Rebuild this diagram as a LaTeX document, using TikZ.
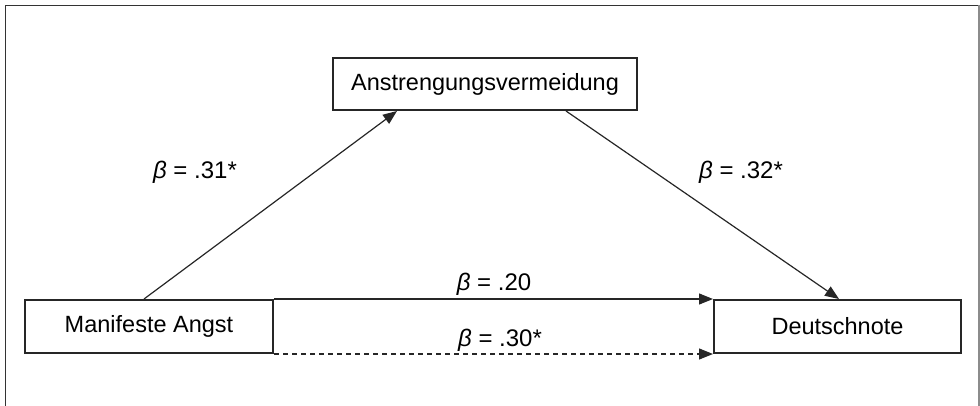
\documentclass[tikz,border=0pt]{standalone}
\usepackage{fontspec}
\setmainfont{Liberation Sans}
\usetikzlibrary{arrows.meta}
\begin{document}
\begin{tikzpicture}[x=1pt,y=-1pt,
  box/.style={draw=black!85, line width=2pt, inner sep=0pt, font=\fontsize{23.5}{28}\selectfont},
  lab/.style={inner sep=0pt, font=\fontsize{24}{28}\selectfont},
  conn/.style={draw=black!85, line width=1.2pt, -{Triangle[length=14pt,width=11pt]}},
  dashconn/.style={conn, dash pattern=on 5pt off 4pt}]
\useasboundingbox (0,0) rectangle (980,406);
\draw[black!80, line width=1.8pt] (5.5,406) -- (5.5,5.5) -- (980,5.5);
\draw[black!45, line width=1.5pt] (979,5.5) -- (979,406);
\node[box, minimum width=304pt, minimum height=52pt] (a) at (485,84) {\raisebox{2pt}{Anstrengungsvermeidung}};
\node[box, minimum width=248pt, minimum height=53pt] (m) at (149,326.5) {Manifeste Angst};
\node[box, minimum width=247pt, minimum height=53pt] (d) at (837.5,326.5) {Deutschnote};
\draw[conn] ([xshift=-5pt]m.north) -- ([xshift=-88pt]a.south);
\draw[conn] ([xshift=81pt]a.south) -- ([xshift=1.5pt]d.north);
\draw[conn] (m.north east) -- (d.north west);
\draw[dashconn] (m.south east) -- (d.south west);
\node[lab] (l1) at (195,172) {\textit{β} = .31*};
\node[lab] (l2) at (741,172) {\textit{β} = .32*};
\node[lab] (l3) at (494,284) {\textit{β} = .20};
\node[lab] (l4) at (500,340) {\textit{β} = .30*};
\end{tikzpicture}
\end{document}
